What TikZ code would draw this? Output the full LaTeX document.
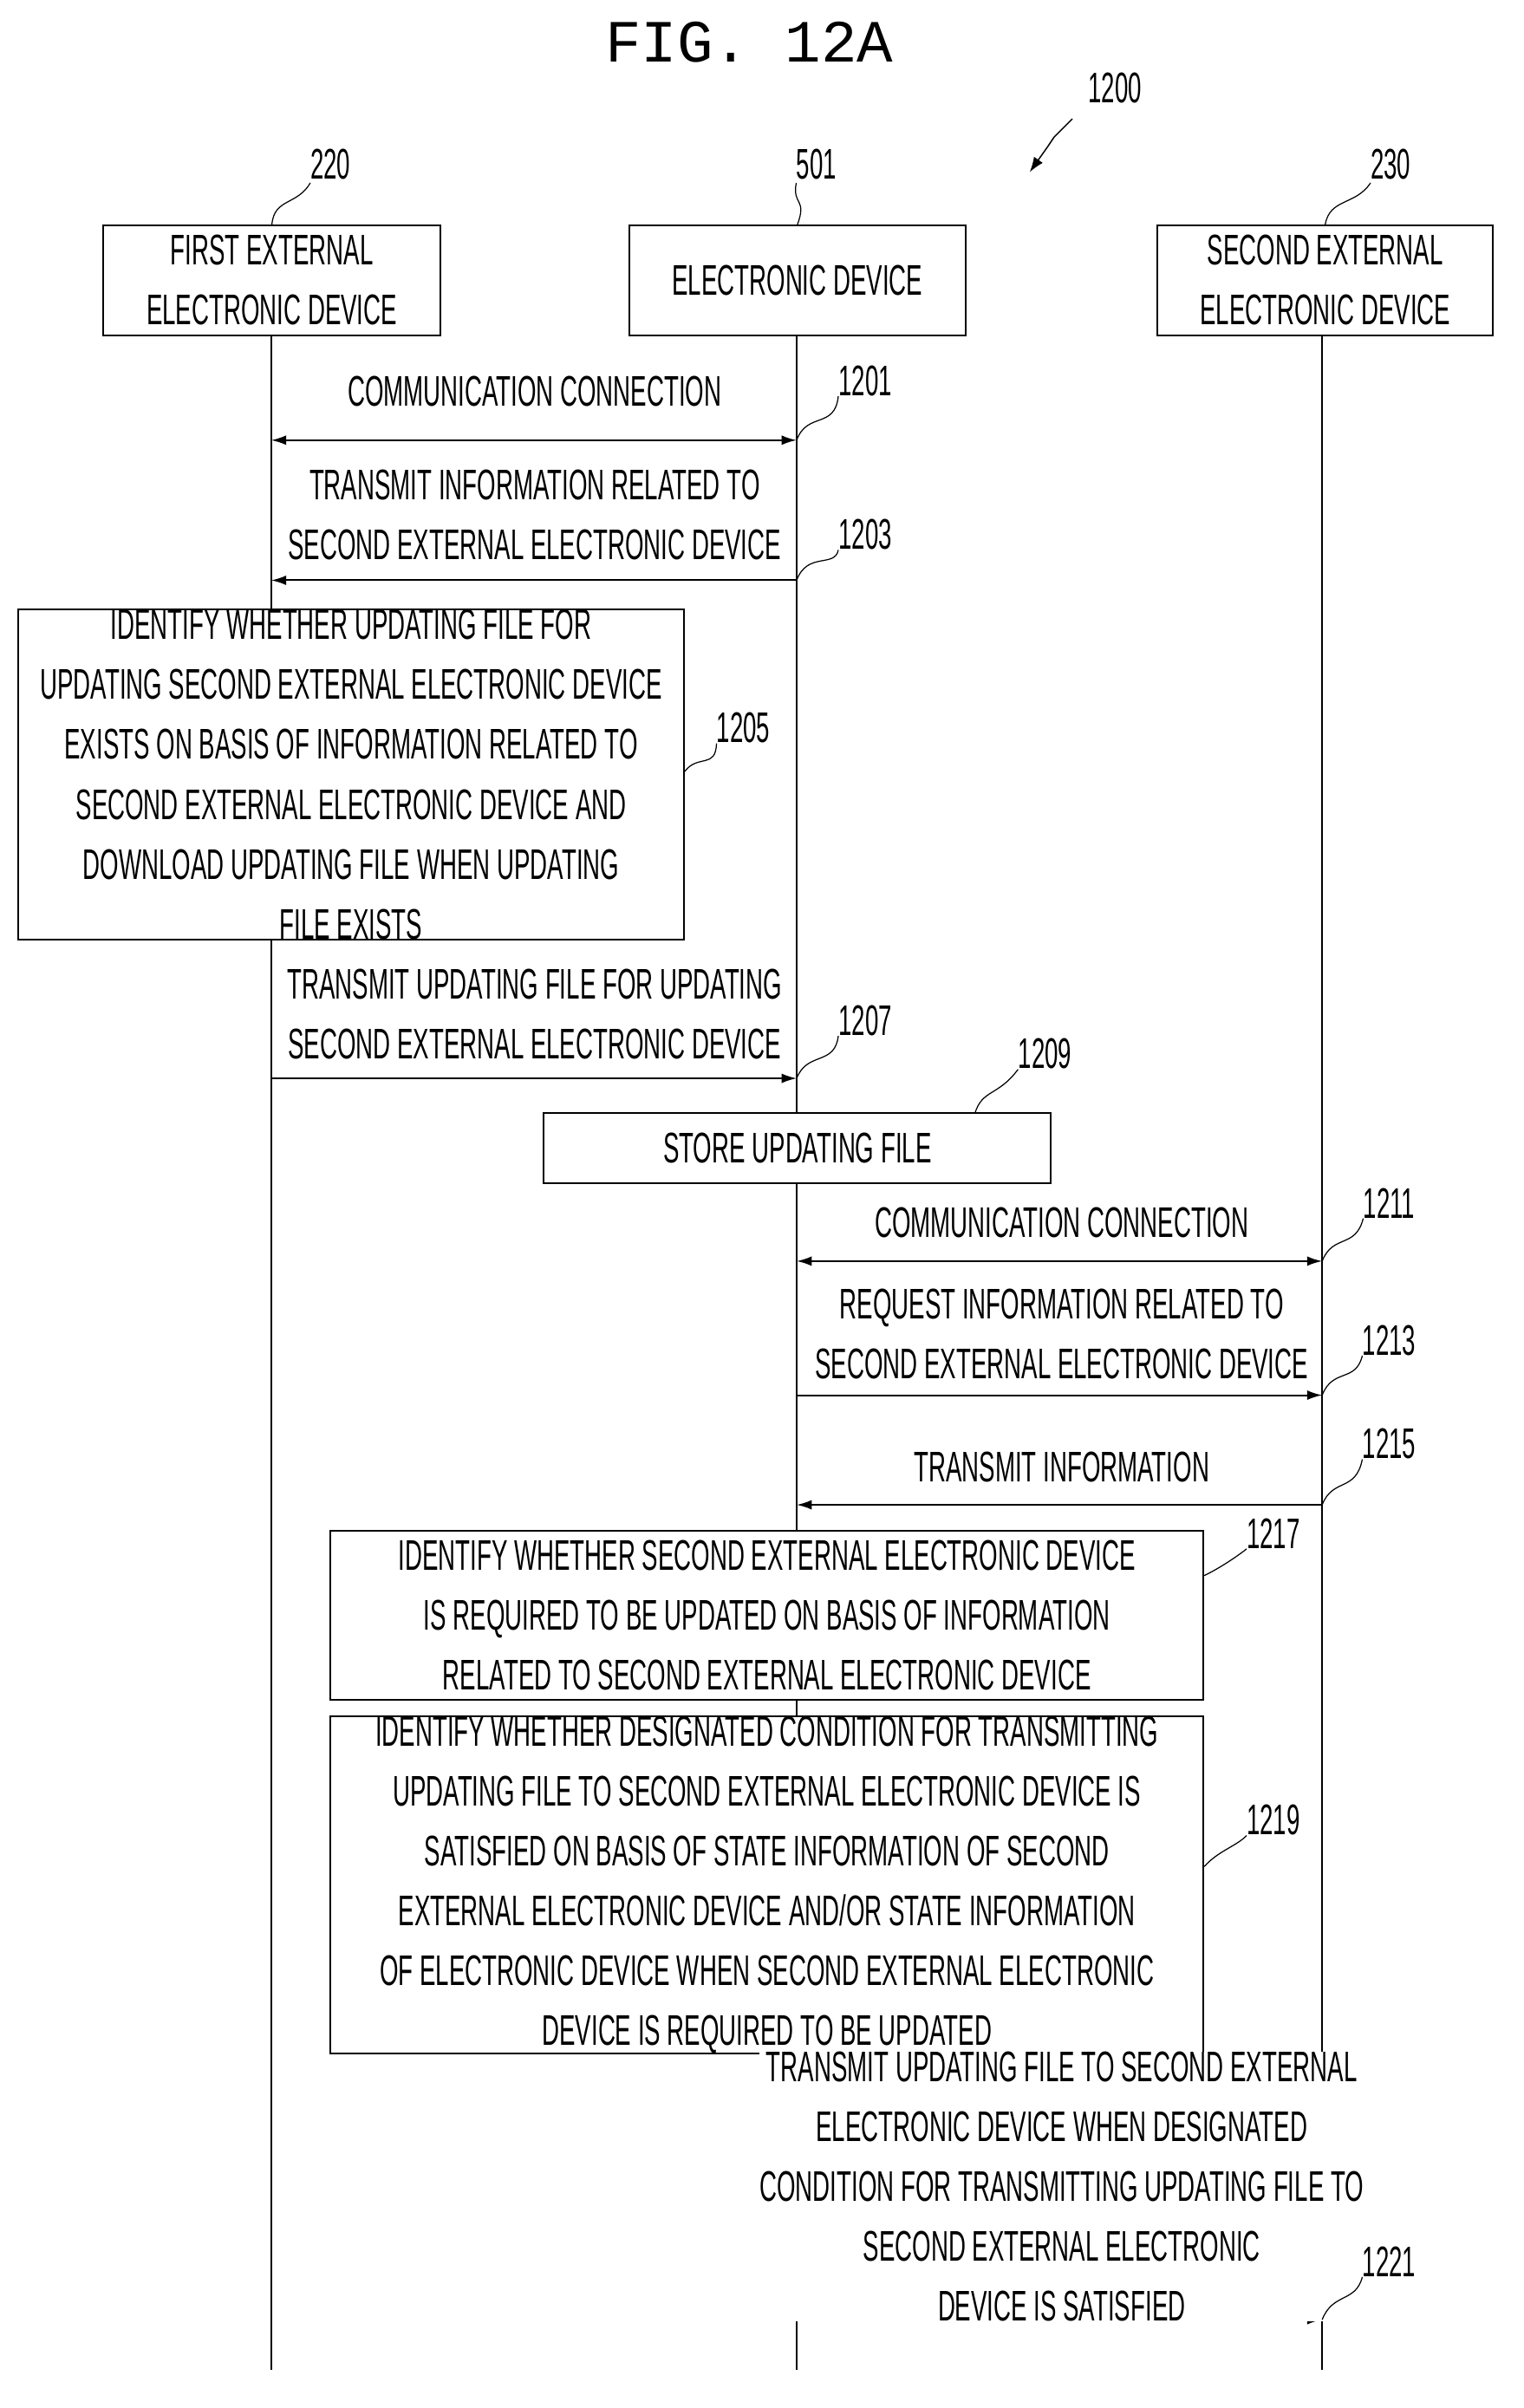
\documentclass[tikz,border=0pt]{standalone}
\usepackage{fontspec}
\setmainfont{Liberation Sans}
\newfontfamily\nar[FakeStretch=0.56]{Liberation Sans}
\newfontfamily\fig{Liberation Mono}
\begin{document}
\begin{tikzpicture}[x=0.05cm,y=-0.05cm,
  txt/.style={font=\nar\fontsize{40}{56}\selectfont,align=center,inner sep=0pt},
  num/.style={font=\nar\fontsize{40}{48}\selectfont,inner sep=0pt},
  box/.style={draw,line width=1.6pt},
  msg/.style={line width=1.6pt,-{Latex[length=14pt,width=9pt]}},
  msg2/.style={line width=1.6pt,{Latex[length=14pt,width=9pt]}-{Latex[length=14pt,width=9pt]}},
  lead/.style={line width=1pt},
  life/.style={line width=1.6pt}]
\usetikzlibrary{arrows.meta}
\useasboundingbox (0,0) rectangle (1000,1581);
\node[font=\fig\fontsize{56}{60}\selectfont] (fig) at (492,28) {FIG. 12A};
\node[num] (n1200) at (732,58) {1200};
\coordinate (z1) at (704,78);
\coordinate (z2) at (676,113);
\draw[line width=1.2pt,-{Latex[length=14pt,width=10pt]}] (z1) -- (692,90) -- (688,96) -- (z2);
% lifelines
\foreach \n/\x in {a/178,b/523,c/868}{
  \coordinate (\n top) at (\x,220); \coordinate (\n bot) at (\x,1556);
  \draw[life] (\n top) -- (\n bot);}
\node[box,txt,minimum width=221*0.05cm,minimum height=72*0.05cm] (A) at (178.5,184) {FIRST EXTERNAL\\ELECTRONIC DEVICE};
\node[box,txt,minimum width=221*0.05cm,minimum height=72*0.05cm] (B) at (523.5,184) {ELECTRONIC DEVICE};
\node[box,txt,minimum width=220*0.05cm,minimum height=72*0.05cm] (C) at (870,184) {SECOND EXTERNAL\\ELECTRONIC DEVICE};
\node[num] (n220) at (217,108) {220};
\node[num] (n501) at (536,108) {501};
\node[num] (n230) at (913,108) {230};
\draw[lead] (n220.south west) ++(0,2) .. controls (195,135) and (180,130) .. (A.north);
\draw[lead] (n501.south west) ++(0,2) .. controls (520,135) and (530,130) .. (B.north);
\draw[lead] (n230.south west) ++(0,2) .. controls (890,135) and (873,130) .. (C.north);
% 1201
\coordinate (a1) at (178,289); \coordinate (b1) at (523,289);
\draw[msg2] (a1) -- (b1);
\node[txt] (t1201) at (351,257) {COMMUNICATION CONNECTION};
\node[num] (n1201) at (568,250) {1201};
\draw[lead] (b1) .. controls (530,270) and (548,282) .. (n1201.south west);
% 1203
\coordinate (a3) at (178,381); \coordinate (b3) at (523,381);
\draw[msg] (b3) -- (a3);
\node[txt] (t1203) at (351,338) {TRANSMIT INFORMATION RELATED TO\\SECOND EXTERNAL ELECTRONIC DEVICE};
\node[num] (n1203) at (568,351) {1203};
\draw[lead] (b3) .. controls (530,362) and (548,373) .. (n1203.south west);
% 1205
\node[box,txt,fill=white,minimum width=437*0.05cm,minimum height=207*0.05cm] (P1205) at (230.5,508.5) {IDENTIFY WHETHER UPDATING FILE FOR\\UPDATING SECOND EXTERNAL ELECTRONIC DEVICE\\EXISTS ON BASIS OF INFORMATION RELATED TO\\SECOND EXTERNAL ELECTRONIC DEVICE AND\\DOWNLOAD UPDATING FILE WHEN UPDATING\\FILE EXISTS};
\node[num] (n1205) at (488,478) {1205};
\draw[lead] (P1205.east) ++(0,-2) .. controls (458,495) and (470,505) .. (n1205.south west);
% 1207
\coordinate (a7) at (178,708); \coordinate (b7) at (523,708);
\draw[msg] (a7) -- (b7);
\node[txt,fill=white] (t1207) at (351,666) {TRANSMIT UPDATING FILE FOR UPDATING\\SECOND EXTERNAL ELECTRONIC DEVICE};
\node[num] (n1207) at (568,670) {1207};
\draw[lead] (b7) .. controls (530,690) and (548,700) .. (n1207.south west);
% 1209
\node[box,txt,fill=white,minimum width=333*0.05cm,minimum height=46*0.05cm] (P1209) at (523.5,754) {STORE UPDATING FILE};
\node[num] (n1209) at (686,692) {1209};
\coordinate (k9) at (640,731);
\draw[lead] (k9) .. controls (645,715) and (655,720) .. (n1209.south west);
% 1211
\coordinate (b11) at (523,828); \coordinate (c11) at (868,828);
\draw[msg2] (b11) -- (c11);
\node[txt] (t1211) at (697,803) {COMMUNICATION CONNECTION};
\node[num] (n1211) at (912,790) {1211};
\draw[lead] (c11) .. controls (875,810) and (890,820) .. (n1211.south west);
% 1213
\coordinate (b13) at (523,916); \coordinate (c13) at (868,916);
\draw[msg] (b13) -- (c13);
\node[txt] (t1213) at (697,876) {REQUEST INFORMATION RELATED TO\\SECOND EXTERNAL ELECTRONIC DEVICE};
\node[num] (n1213) at (912,880) {1213};
\draw[lead] (c13) .. controls (875,898) and (890,908) .. (n1213.south west);
% 1215
\coordinate (b15) at (523,988); \coordinate (c15) at (868,988);
\draw[msg] (c15) -- (b15);
\node[txt] (t1215) at (697,963) {TRANSMIT INFORMATION};
\node[num] (n1215) at (912,948) {1215};
\draw[lead] (c15) .. controls (875,970) and (890,980) .. (n1215.south west);
% 1217
\node[box,txt,fill=white,minimum width=573*0.05cm,minimum height=111*0.05cm] (P1217) at (503.5,1060.5) {IDENTIFY WHETHER SECOND EXTERNAL ELECTRONIC DEVICE\\IS REQUIRED TO BE UPDATED ON BASIS OF INFORMATION\\RELATED TO SECOND EXTERNAL ELECTRONIC DEVICE};
\node[num] (n1217) at (836,1007) {1217};
\draw[lead] (P1217.north east) ++(0,30) .. controls (800,1030) and (812,1022) .. (n1217.south west);
% 1219
\node[box,txt,fill=white,minimum width=573*0.05cm,minimum height=205*0.05cm] (P1219) at (503.5,1237.5) {IDENTIFY WHETHER DESIGNATED CONDITION FOR TRANSMITTING\\UPDATING FILE TO SECOND EXTERNAL ELECTRONIC DEVICE IS\\SATISFIED ON BASIS OF STATE INFORMATION OF SECOND\\EXTERNAL ELECTRONIC DEVICE AND/OR STATE INFORMATION\\OF ELECTRONIC DEVICE WHEN SECOND EXTERNAL ELECTRONIC\\DEVICE IS REQUIRED TO BE UPDATED};
\node[num] (n1219) at (836,1195) {1219};
\draw[lead] (P1219.east) ++(0,-12) .. controls (800,1215) and (812,1212) .. (n1219.south west);
% 1221
\coordinate (b21) at (523,1523); \coordinate (c21) at (868,1523);
\draw[msg] (b21) -- (c21);
\node[txt,fill=white] (t1221) at (697,1435.5) {TRANSMIT UPDATING FILE TO SECOND EXTERNAL\\ELECTRONIC DEVICE WHEN DESIGNATED\\CONDITION FOR TRANSMITTING UPDATING FILE TO\\SECOND EXTERNAL ELECTRONIC\\DEVICE IS SATISFIED};
\node[num] (n1221) at (912,1485) {1221};
\draw[lead] (c21) .. controls (875,1505) and (890,1512) .. (n1221.south west);
\end{tikzpicture}
\end{document}
